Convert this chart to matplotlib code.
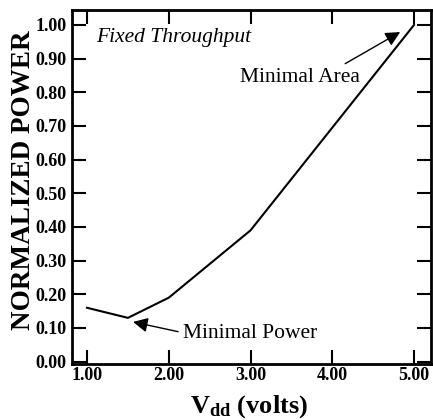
import matplotlib
matplotlib.use("Agg")
import matplotlib.pyplot as plt

vdd = [1.0, 1.5, 2.0, 3.0, 5.0]
power = [0.16, 0.13, 0.19, 0.39, 1.00]
xticks = [1.0, 2.0, 3.0, 4.0, 5.0]
xtick_labels = ["1.00", "2.00", "3.00", "4.00", "5.00"]
yticks = [0.0, 0.1, 0.2, 0.3, 0.4, 0.5, 0.6, 0.7, 0.8, 0.9, 1.0]
ytick_labels = ["%.2f" % v for v in yticks]

plt.rcParams['font.family'] = ['Liberation Serif', 'DejaVu Serif']
plt.rcParams['mathtext.fontset'] = 'custom'
plt.rcParams['mathtext.rm'] = 'Liberation Serif:bold'
plt.rcParams['mathtext.bf'] = 'Liberation Serif:bold'
plt.rcParams['mathtext.it'] = 'Liberation Serif:bold'

fig = plt.figure(figsize=(4.33, 4.20), dpi=100)
ax = fig.add_axes([72/433, 1-364/420, (431-72)/433, (364-10)/420])

ax.plot(vdd, power, color='black', lw=1.5)

ax.set_xlim(0.816, 5.208)
ax.set_ylim(-0.007, 1.0445)
ax.set_xticks(xticks)
ax.set_xticklabels(xtick_labels, fontsize=13, fontweight='bold')
ax.set_yticks(yticks)
ax.set_yticklabels(ytick_labels, fontsize=13, fontweight='bold')
ax.tick_params(direction='in', length=10, width=1.5, top=True, right=True)
ax.tick_params(axis='x', pad=2)
ax.tick_params(axis='y', pad=4)
for s in ax.spines.values():
    s.set_linewidth(2.0)

fig.text(24/433, 1-180/420, "NORMALIZED POWER", rotation=90, ha='center', va='center',
         fontsize=19.5, fontweight='bold')
fig.text(249/433, 1-413/420, r"$\mathbf{V_{dd}}$ (volts)", ha='center', va='baseline',
         fontsize=19, fontweight='bold')

ax.text(1.11, 0.9495, "Fixed Throughput", style='italic', fontsize=15.5, va='baseline')
ax.text(2.87, 0.831, "Minimal Area", fontsize=15.5, va='baseline')
ax.text(2.175, 0.070, "Minimal Power", fontsize=15.5, va='baseline')

arrow = dict(arrowstyle='-|>', color='black', lw=1.0, mutation_scale=22, shrinkA=0, shrinkB=0)
ax.annotate("", xy=(1.563, 0.118), xytext=(2.114, 0.089), arrowprops=arrow)
ax.annotate("", xy=(4.831, 0.979), xytext=(4.158, 0.885), arrowprops=arrow)

fig.savefig("out.png", dpi=100)
